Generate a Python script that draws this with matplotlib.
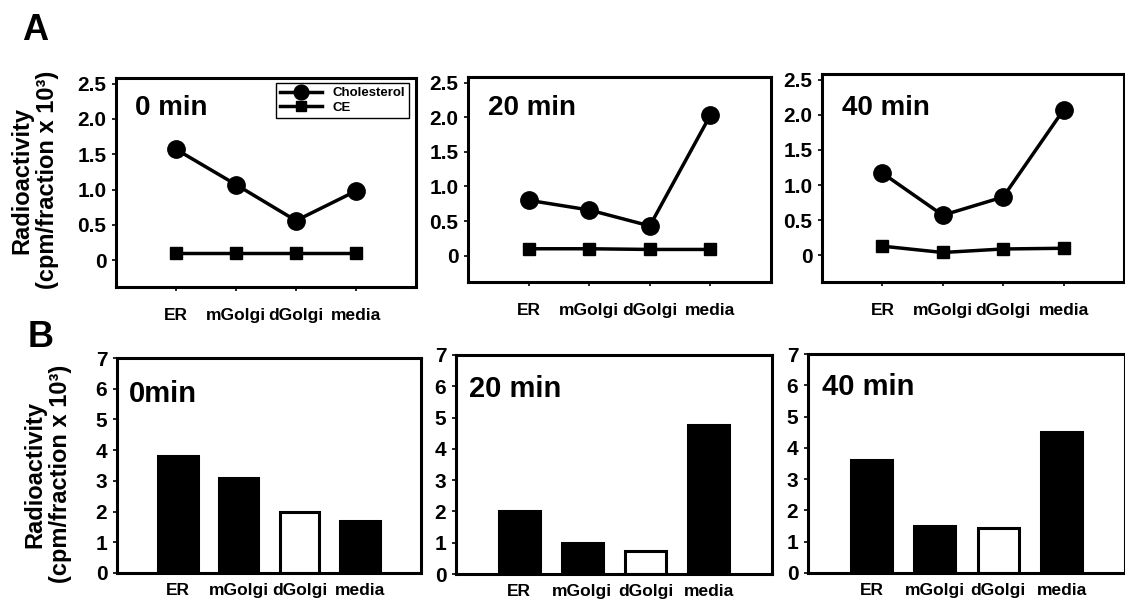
import numpy as np
import matplotlib.pyplot as plt

plt.rcParams['font.family'] = ['Liberation Sans', 'DejaVu Sans']
plt.rcParams['font.weight'] = 'bold'

# fractions (x categories)
fractions = ['ER', 'mGolgi', 'dGolgi', 'media']
times = ['0 min', '20 min', '40 min']
times_b = ['0min', '20 min', '40 min']

# panel A: radioactivity (cpm/fraction x 10^3)
chol_0 = [1.57, 1.07, 0.56, 0.98]
chol_20 = [0.80, 0.66, 0.43, 2.03]
chol_40 = [1.17, 0.57, 0.83, 2.07]
ce_0 = [0.10, 0.10, 0.10, 0.10]
ce_20 = [0.10, 0.10, 0.09, 0.09]
ce_40 = [0.13, 0.04, 0.09, 0.10]

# panel B: radioactivity (cpm/fraction x 10^3)
bars_0 = [3.8, 3.1, 2.0, 1.7]
bars_20 = [2.0, 1.0, 0.75, 4.75]
bars_40 = [3.6, 1.5, 1.45, 4.5]
hollow = 'dGolgi'

W, H = 1125, 603
fig = plt.figure(figsize=(W / 100, H / 100), dpi=100)


def box(l, t, r, b):
    return [l / W, 1 - b / H, (r - l) / W, (b - t) / H]


a_boxes = [box(116, 78, 416, 287), box(468, 77, 771, 282), box(822, 74, 1124, 282)]
b_boxes = [box(117, 358, 421, 573), box(456, 355, 772, 574), box(808, 354, 1125, 573)]
a_text = [(0.063, 0.92), (0.066, 0.912), (0.066, 0.90)]
b_text = [(0.04, 0.90), (0.041, 0.91), (0.044, 0.913)]

x = np.arange(len(fractions))

for i, (chol, ce) in enumerate([(chol_0, ce_0), (chol_20, ce_20), (chol_40, ce_40)]):
    ax = fig.add_axes(a_boxes[i])
    ax.plot(x, chol, '-o', color='black', lw=2.5, ms=12.5, label='Cholesterol')
    ax.plot(x, ce, '-s', color='black', lw=2.5, ms=9, label='CE')
    ax.set_xlim(-1, 4)
    ax.set_ylim(-0.38, 2.58)
    ax.set_yticks([0, 0.5, 1, 1.5, 2, 2.5])
    ax.set_yticklabels(['0', '0.5', '1.0', '1.5', '2.0', '2.5'])
    ax.set_xticks(x)
    ax.set_xticklabels(fractions)
    ax.tick_params(axis='y', labelsize=15, length=3, width=1.2, pad=4)
    ax.tick_params(axis='x', labelsize=12.5, length=3, width=1.2, pad=12)
    for s in ax.spines.values():
        s.set_linewidth(2.2)
    ax.text(a_text[i][0], a_text[i][1], times[i], transform=ax.transAxes,
            ha='left', va='top', fontsize=20, fontweight='bold')
    if i == 0:
        leg = ax.legend(loc='upper right', bbox_to_anchor=(0.977, 0.976), borderaxespad=0,
                        fontsize=9.5, handlelength=3.2, fancybox=False, framealpha=1,
                        edgecolor='black', markerscale=0.85, borderpad=0.3, labelspacing=0.2)
        leg.get_frame().set_linewidth(1)

for i, vals in enumerate([bars_0, bars_20, bars_40]):
    ax = fig.add_axes(b_boxes[i])
    colors = ['white' if f == hollow else 'black' for f in fractions]
    ax.bar(x, vals, width=0.65, color=colors, edgecolor='black', linewidth=2.2)
    ax.set_xlim(-1, 4)
    ax.set_ylim(0, 7)
    ax.set_yticks(range(8))
    ax.set_xticks(x)
    ax.set_xticklabels(fractions)
    ax.tick_params(axis='y', labelsize=15, length=3, width=1.2, pad=4)
    ax.tick_params(axis='x', labelsize=12.5, length=0, pad=7)
    for s in ax.spines.values():
        s.set_linewidth(2.2)
    ax.text(b_text[i][0], b_text[i][1], times_b[i], transform=ax.transAxes,
            ha='left', va='top', fontsize=21, fontweight='bold')

ylab = 'Radioactivity\n(cpm/fraction x 10³)'
fig.text(35 / W, 1 - 180 / H, ylab, rotation=90, ha='center', va='center',
         fontsize=17, fontweight='bold', linespacing=1.15)
fig.text(48 / W, 1 - 474 / H, ylab, rotation=90, ha='center', va='center',
         fontsize=17, fontweight='bold', linespacing=1.15)

fig.text(22 / W, 1 - 13 / H, 'A', ha='left', va='top', fontsize=26, fontweight='bold')
fig.text(28 / W, 1 - 320 / H, 'B', ha='left', va='top', fontsize=26, fontweight='bold')

fig.savefig('out.png', dpi=100)
